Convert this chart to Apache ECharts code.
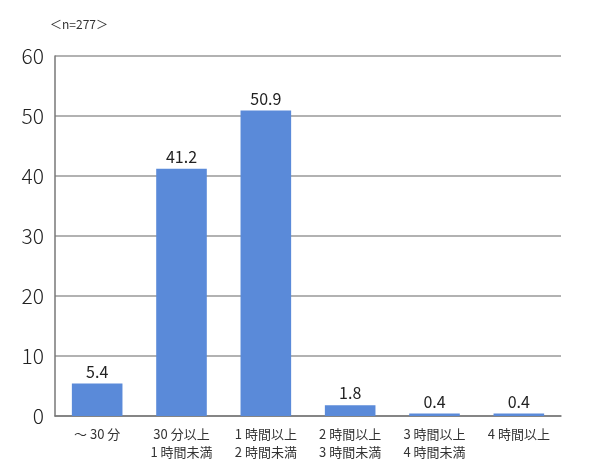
<!DOCTYPE html>
<html>
<head>
<meta charset="utf-8">
<script src="https://cdn.jsdelivr.net/npm/echarts@6/dist/echarts.min.js"></script>
<style>
  html, body { margin: 0; padding: 0; background: #fff; }
  #chart { width: 590px; height: 471px; }
</style>
</head>
<body>
<div id="chart"></div>
<script>
const categories = ['～ 30 分', '30 分以上\n1 時間未満', '1 時間以上\n2 時間未満', '2 時間以上\n3 時間未満', '3 時間以上\n4 時間未満', '4 時間以上'];
const values = [5.4, 41.2, 50.9, 1.8, 0.4, 0.4];
const yTicks = { min: 0, max: 60, interval: 10 };
const note = '＜n=277＞';

const font = '"Noto Sans CJK JP", "Noto Sans", sans-serif';
const chart = echarts.init(document.getElementById('chart'));

chart.setOption({
  animation: false,
  textStyle: { fontFamily: font },
  title: {
    text: note, left: 45, top: 13,
    textStyle: { fontSize: 12, fontWeight: 'normal', color: '#333', fontFamily: font }
  },
  grid: { left: 55, right: 29, top: 56, bottom: 55 },
  xAxis: {
    type: 'category',
    data: categories,
    axisLine: { lineStyle: { color: '#777', width: 1.5 } },
    axisTick: { show: false },
    axisLabel: { color: '#333', fontSize: 13, lineHeight: 18, margin: 9, interval: 0 }
  },
  yAxis: {
    type: 'value',
    min: yTicks.min, max: yTicks.max, interval: yTicks.interval,
    axisLine: { show: true, lineStyle: { color: '#777', width: 1.5 } },
    axisTick: { show: false },
    axisLabel: { color: '#222', fontSize: 21, fontWeight: 300, margin: 11 },
    splitLine: { lineStyle: { color: '#999', width: 1.5 } }
  },
  series: [{
    type: 'bar',
    data: values,
    barWidth: '60%',
    itemStyle: { color: '#5a8ad9' },
    label: { show: true, position: 'top', color: '#222', fontSize: 16, distance: 4, formatter: (p) => p.value.toFixed(1) }
  }]
});
</script>
</body>
</html>
